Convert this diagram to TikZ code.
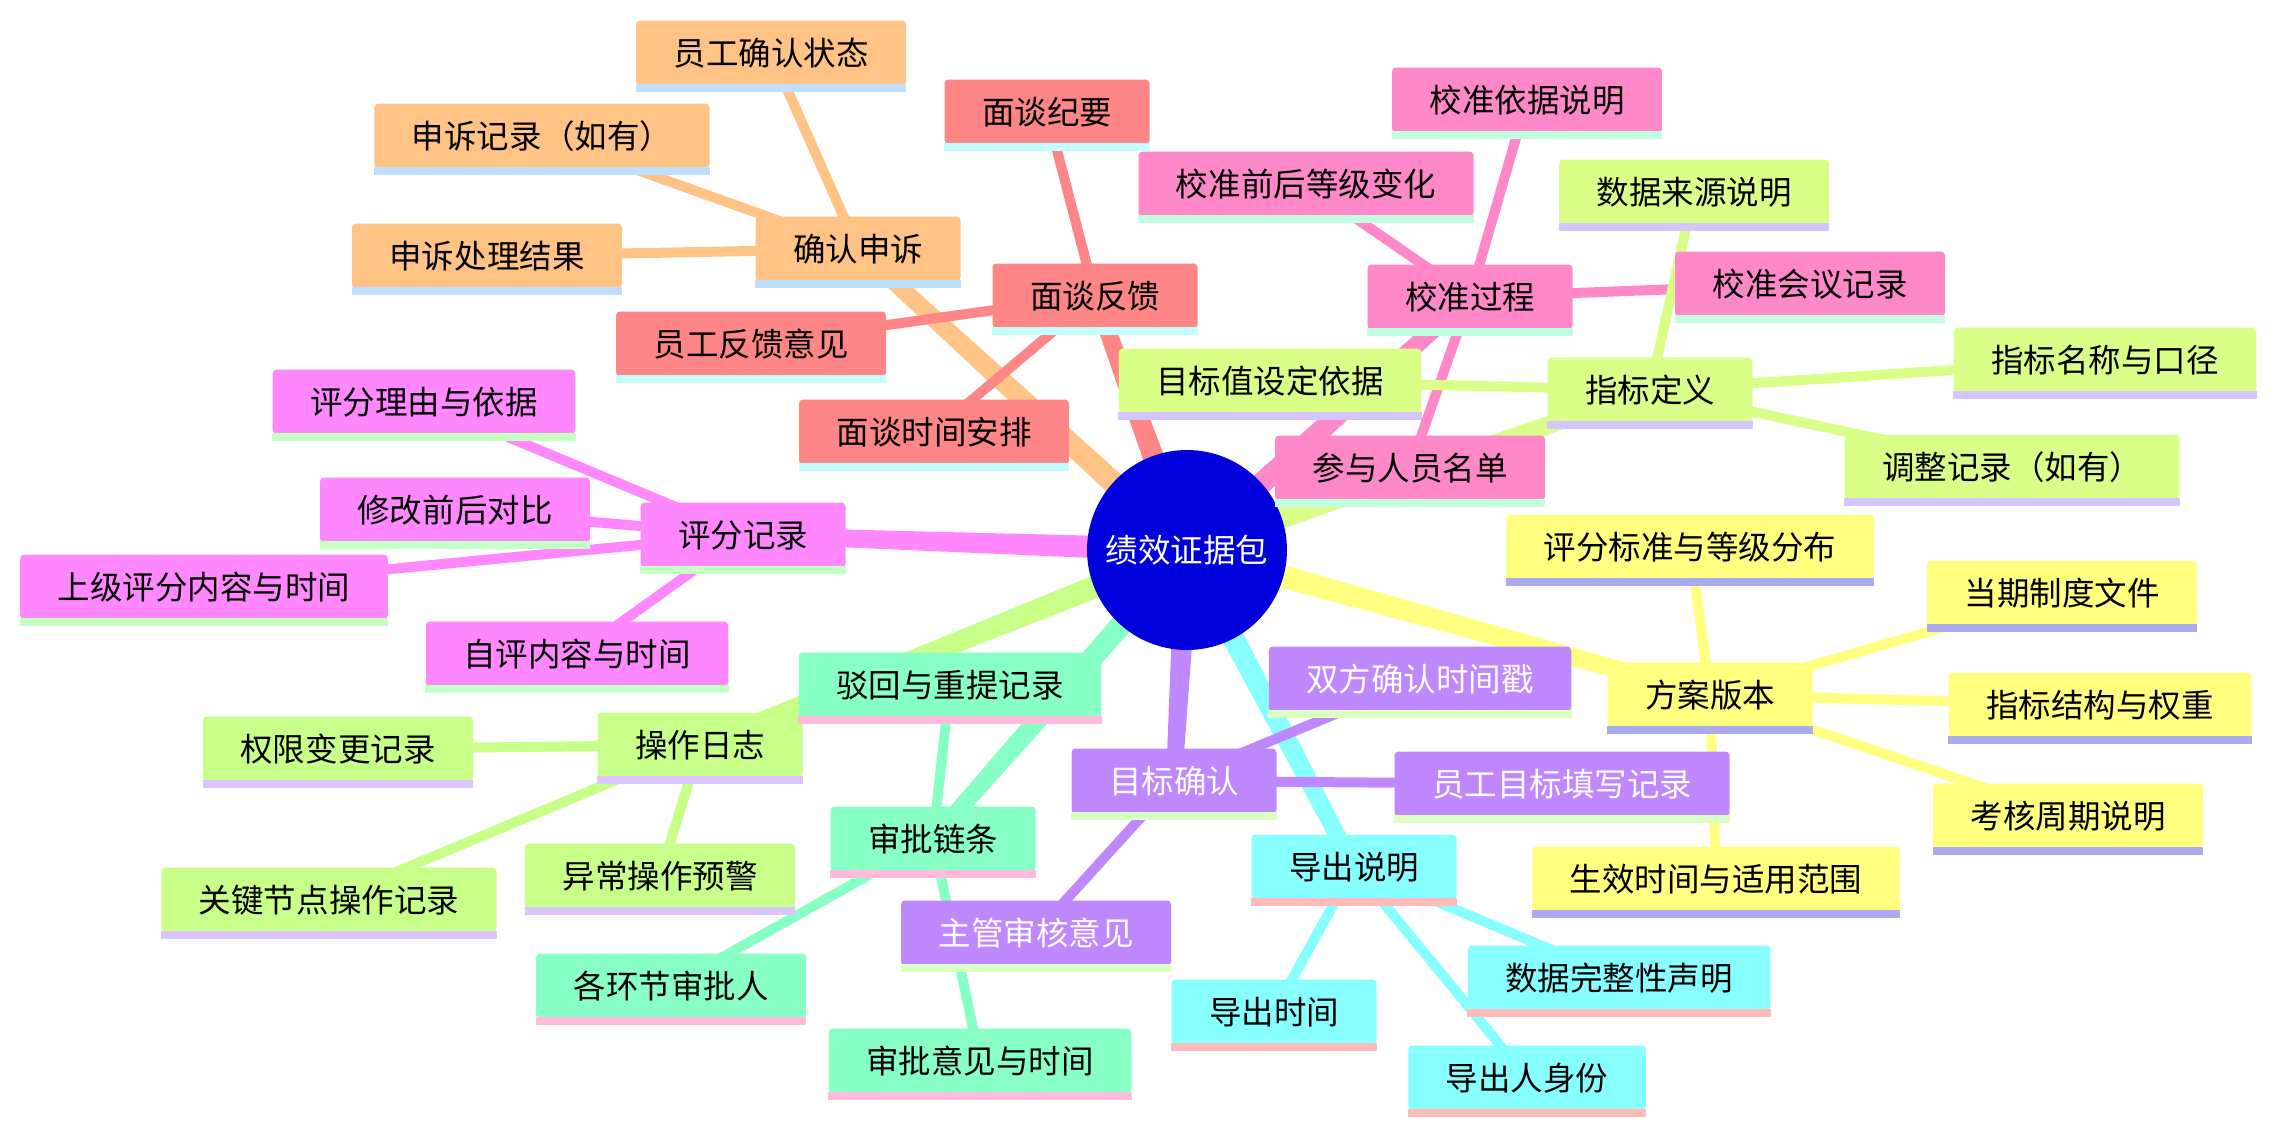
\documentclass[tikz,border=0pt]{standalone}
\usepackage{fontspec}
\newfontfamily\cjkfont{Noto Sans CJK SC}
\usetikzlibrary{calc}
\pgfdeclarelayer{background}
\pgfsetlayers{background,main}

\definecolor{cRoot}{HTML}{0000DD}
\definecolor{cOrange}{HTML}{FFC386}
\definecolor{uOrange}{HTML}{BFDFFF}
\definecolor{cRed}{HTML}{FF8686}
\definecolor{uRed}{HTML}{C4FFFF}
\definecolor{cMagenta}{HTML}{FF88FF}
\definecolor{uMagenta}{HTML}{C4FFC4}
\definecolor{cLime}{HTML}{C8FF88}
\definecolor{uLime}{HTML}{DCC4FF}
\definecolor{cMint}{HTML}{88FFC4}
\definecolor{uMint}{HTML}{FFBADC}
\definecolor{cPurple}{HTML}{C088FF}
\definecolor{uPurple}{HTML}{DCFFC4}
\definecolor{cCyan}{HTML}{88FFFF}
\definecolor{uCyan}{HTML}{FFBABA}
\definecolor{cYellow}{HTML}{FFFF80}
\definecolor{uYellow}{HTML}{AAAAF0}
\definecolor{cPink}{HTML}{FF88C8}
\definecolor{uPink}{HTML}{C0FFE0}
\definecolor{cYG}{HTML}{DAFF88}
\definecolor{uYG}{HTML}{D4C4FF}

\begin{document}
\begin{tikzpicture}[
  x=0.02cm, y=-0.02cm,
  box/.style={rounded corners=0.08cm, minimum height=1.3cm, inner xsep=0.75cm, inner ysep=0pt, font=\cjkfont\fontsize{18.5}{22}\selectfont},
  under/.style={append after command={\pgfextra{\let\ulnode=\tikzlastnode}
    ([yshift=-0.04cm]\ulnode.south west) edge[draw=#1, line width=0.16cm, rounded corners=0pt] ([yshift=-0.04cm]\ulnode.south east)}},
  appealbox/.style={box, fill=cOrange, under=uOrange},
  talkbox/.style={box, fill=cRed, under=uRed},
  scorebox/.style={box, fill=cMagenta, under=uMagenta},
  logbox/.style={box, fill=cLime, under=uLime},
  chainbox/.style={box, fill=cMint, under=uMint},
  goalbox/.style={box, fill=cPurple, text=white, under=uPurple},
  exportbox/.style={box, fill=cCyan, under=uCyan},
  planbox/.style={box, fill=cYellow, under=uYellow},
  calibbox/.style={box, fill=cPink, under=uPink},
  metricbox/.style={box, fill=cYG, under=uYG},
  twig/.style={draw=#1, line width=0.2cm}
]
\useasboundingbox (0,0) rectangle (2275,1132);

\node[circle, fill=cRoot, minimum size=4cm, text=white, font=\cjkfont\fontsize{18.5}{22}\selectfont] (root) at (1187,550) {绩效证据包};

\node[appealbox] (confirm) at (858,249) {确认申诉};
\node[appealbox] (status) at (771,53) {员工确认状态};
\node[appealbox] (appeal) at (542,136) {申诉记录（如有）};
\node[appealbox] (result) at (487,256) {申诉处理结果};

\node[talkbox] (talk) at (1095,296) {面谈反馈};
\node[talkbox] (minutes) at (1047,112) {面谈纪要};
\node[talkbox] (opinion) at (751,344) {员工反馈意见};
\node[talkbox] (sched) at (934,432) {面谈时间安排};

\node[scorebox] (score) at (743,535) {评分记录};
\node[scorebox] (reason) at (424,402) {评分理由与依据};
\node[scorebox] (diff) at (455,510) {修改前后对比};
\node[scorebox] (boss) at (204,587) {上级评分内容与时间};
\node[scorebox] (self) at (577,654) {自评内容与时间};

\node[logbox] (oplog) at (700,745) {操作日志};
\node[logbox] (perm) at (338,749) {权限变更记录};
\node[logbox] (keyop) at (329,900) {关键节点操作记录};
\node[logbox] (alarm) at (660,876) {异常操作预警};

\node[chainbox] (chain) at (933,839) {审批链条};
\node[chainbox] (reject) at (950,685) {驳回与重提记录};
\node[chainbox] (approver) at (671,986) {各环节审批人};
\node[chainbox] (remark) at (980,1061) {审批意见与时间};

\node[goalbox] (goal) at (1174,781) {目标确认};
\node[goalbox] (review) at (1036,933) {主管审核意见};
\node[goalbox] (stamp) at (1420,679) {双方确认时间戳};
\node[goalbox] (entry) at (1562,784) {员工目标填写记录};

\node[exportbox] (export) at (1354,867) {导出说明};
\node[exportbox] (etime) at (1274,1012) {导出时间};
\node[exportbox] (integrity) at (1619,978) {数据完整性声明};
\node[exportbox] (who) at (1527,1078) {导出人身份};

\node[planbox] (plan) at (1710,695) {方案版本};
\node[planbox] (grade) at (1690,547) {评分标准与等级分布};
\node[planbox] (policy) at (2062,593) {当期制度文件};
\node[planbox] (weight) at (2100,705) {指标结构与权重};
\node[planbox] (cycle) at (2068,816) {考核周期说明};
\node[planbox] (scope) at (1716,879) {生效时间与适用范围};

\node[calibbox] (calib) at (1470,297) {校准过程};
\node[calibbox] (basis) at (1527,100) {校准依据说明};
\node[calibbox] (change) at (1306,184) {校准前后等级变化};
\node[calibbox] (meeting) at (1810,284) {校准会议记录};
\node[calibbox] (people) at (1410,468) {参与人员名单};

\node[metricbox] (metric) at (1650,390) {指标定义};
\node[metricbox] (source) at (1694,192) {数据来源说明};
\node[metricbox] (target) at (1270,381) {目标值设定依据};
\node[metricbox] (caliber) at (2105,360) {指标名称与口径};
\node[metricbox] (adjust) at (2012,467) {调整记录（如有）};

\begin{pgfonlayer}{background}
\foreach \b/\c in {confirm/cOrange, talk/cRed, score/cMagenta, oplog/cLime, chain/cMint, goal/cPurple, export/cCyan, plan/cYellow, calib/cPink, metric/cYG}
  \fill[\c] ($(root.center)!0.24cm!90:(\b.center)$) -- ($(\b.center)!0.16cm!-90:(root.center)$)
    -- ($(\b.center)!0.16cm!90:(root.center)$) -- ($(root.center)!0.24cm!-90:(\b.center)$) -- cycle;

\foreach \l in {status, appeal, result} \draw[twig=cOrange] (confirm.center) -- (\l.center);
\foreach \l in {minutes, opinion, sched} \draw[twig=cRed] (talk.center) -- (\l.center);
\foreach \l in {reason, diff, boss, self} \draw[twig=cMagenta] (score.center) -- (\l.center);
\foreach \l in {perm, keyop, alarm} \draw[twig=cLime] (oplog.center) -- (\l.center);
\foreach \l in {reject, approver, remark} \draw[twig=cMint] (chain.center) -- (\l.center);
\foreach \l in {review, stamp, entry} \draw[twig=cPurple] (goal.center) -- (\l.center);
\foreach \l in {etime, integrity, who} \draw[twig=cCyan] (export.center) -- (\l.center);
\foreach \l in {grade, policy, weight, cycle, scope} \draw[twig=cYellow] (plan.center) -- (\l.center);
\foreach \l in {basis, change, meeting, people} \draw[twig=cPink] (calib.center) -- (\l.center);
\foreach \l in {source, target, caliber, adjust} \draw[twig=cYG] (metric.center) -- (\l.center);
\end{pgfonlayer}
\end{tikzpicture}
\end{document}
